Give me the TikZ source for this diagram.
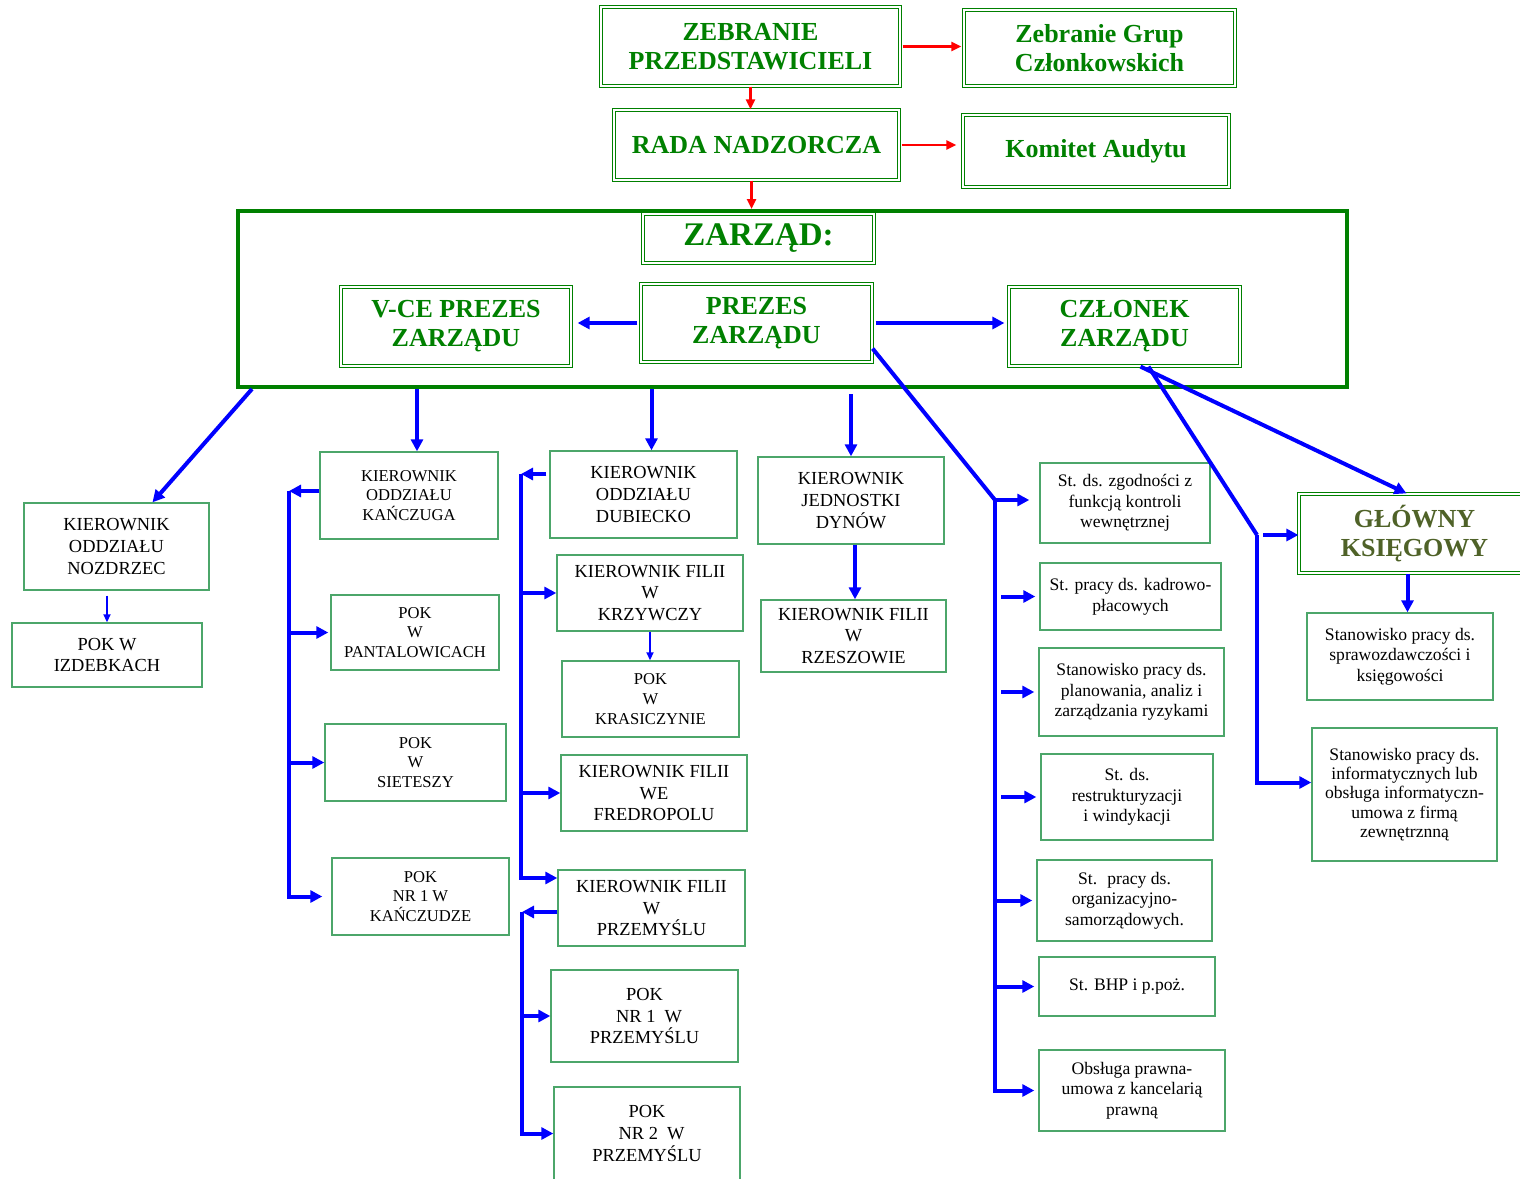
\documentclass[tikz,border=0pt]{standalone}
\usepackage{fontspec}
\setmainfont{Liberation Serif}
\usepackage{tikz}
\usetikzlibrary{arrows.meta,shapes,positioning,calc}

\definecolor{zgreen}{RGB}{0,128,0}
\definecolor{boxgreen}{RGB}{76,166,106}
\definecolor{olivegreen}{RGB}{79,98,40}

\begin{document}
\begin{tikzpicture}[
    x=0.5pt, y=-0.5pt,
    wh/.style 2 args={minimum width=#1*0.5pt, minimum height=#2*0.5pt},
    title/.style={rectangle, draw=zgreen, double, double distance=1.2pt, line width=0.6pt, text=zgreen, inner sep=0pt, align=center, font=\fontsize{13}{14.5}\selectfont\bfseries},
    unit/.style={rectangle, draw=boxgreen, line width=0.7pt, inner sep=0pt, align=center, font=\fontsize{9.2}{10.8}\selectfont},
    pok/.style={unit, font=\fontsize{8.3}{9.8}\selectfont},
    post/.style={unit, font=\fontsize{8.8}{10.3}\selectfont},
    redarrow/.style={-{Triangle[length=5pt,width=4.5pt]}, red, line width=1.2pt},
    arrow/.style={-{Triangle[length=6pt,width=6pt]}, blue, line width=2pt},
    thinarrow/.style={-{Triangle[length=4pt,width=3.5pt]}, blue, line width=0.9pt},
    link/.style={blue, line width=2pt}
]
    \useasboundingbox (0,0) rectangle (1520,1178);

    % walne i rada
    \node[title, wh={299}{79}] (zebranie) at (750.5,46.5) {ZEBRANIE\\PRZEDSTAWICIELI};
    \node[title, wh={271}{76}] (grupy) at (1099.5,48) {Zebranie Grup\\Członkowskich};
    \node[title, wh={285}{70}] (rada) at (756.5,145) {RADA NADZORCZA};
    \node[title, wh={266}{72}] (komitet) at (1096,151) {Komitet Audytu};

    % zarzad
    \node[rectangle, draw=zgreen, line width=2pt, wh={1109}{176}] (frame) at (792.5,299) {};
    \node[title, wh={231}{49}, font=\fontsize{16.5}{18}\selectfont\bfseries] (zarzad) at (758.5,238.5) {ZARZĄD:};
    \node[title, wh={230}{79}] (wiceprezes) at (456,326.5) {V-CE PREZES\\ZARZĄDU};
    \node[title, wh={231}{78}] (prezes) at (756.5,323) {PREZES\\ZARZĄDU};
    \node[title, wh={231}{79}] (czlonek) at (1124.5,326.5) {CZŁONEK\\ZARZĄDU};

    % oddzialy
    \node[unit, wh={185}{87}] (nozdrzec) at (116.5,546.5) {KIEROWNIK\\ODDZIAŁU\\NOZDRZEC};
    \node[unit, wh={190}{64}] (izdebki) at (107,655) {POK W\\IZDEBKACH};
    \node[pok, wh={178}{87}] (kanczuga) at (409,495.5) {KIEROWNIK\\ODDZIAŁU\\KAŃCZUGA};
    \node[pok, wh={168}{75}] (pantalowice) at (415,632.5) {POK\\W\\PANTALOWICACH};
    \node[pok, wh={181}{77}] (sietesza) at (415.5,762.5) {POK\\W\\SIETESZY};
    \node[pok, wh={177}{77}] (kanczudza) at (420.5,896.5) {POK\\NR 1 W\\KAŃCZUDZE};
    \node[unit, wh={187}{87}] (dubiecko) at (643.5,494.5) {KIEROWNIK\\ODDZIAŁU\\DUBIECKO};
    \node[unit, wh={186}{76}] (krzywcza) at (650,593) {KIEROWNIK FILII\\W\\KRZYWCZY};
    \node[pok, wh={177}{76}] (krasiczyn) at (650.5,699) {POK\\W\\KRASICZYNIE};
    \node[unit, wh={186}{76}] (fredropol) at (654,793) {KIEROWNIK FILII\\WE\\FREDROPOLU};
    \node[unit, wh={187}{76}] (przemysl) at (651.5,908) {KIEROWNIK FILII\\W\\PRZEMYŚLU};
    \node[unit, wh={187}{92}] (przemysl1) at (644.5,1016) {POK\\~~NR 1~ W\\PRZEMYŚLU};
    \node[unit, wh={186}{93}] (przemysl2) at (647,1133.5) {POK\\~~NR 2~ W\\PRZEMYŚLU};
    \node[unit, wh={186}{87}] (dynow) at (851,500.5) {KIEROWNIK\\JEDNOSTKI\\DYNÓW};
    \node[unit, wh={185}{72}] (rzeszow) at (853.5,636) {KIEROWNIK FILII\\W\\RZESZOWIE};

    % stanowiska
    \node[post, wh={170}{80}] (kontrola) at (1125,503) {St. ds. zgodności z\\funkcją kontroli\\wewnętrznej};
    \node[post, wh={181}{67}] (kadry) at (1130.5,596.5) {St. pracy ds. kadrowo-\\płacowych};
    \node[post, wh={185}{88}] (ryzyko) at (1131.5,692) {Stanowisko pracy ds.\\planowania, analiz i\\zarządzania ryzykami};
    \node[post, wh={172}{86}] (windykacja) at (1127,797) {St. ds.\\restrukturyzacji\\i windykacji};
    \node[post, wh={175}{81}] (samorzad) at (1124.5,900.5) {St.~ pracy ds.\\organizacyjno-\\samorządowych.};
    \node[post, wh={176}{59}] (bhp) at (1127,986.5) {St. BHP i p.poż.};
    \node[post, wh={186}{81}] (prawna) at (1132,1090.5) {Obsługa prawna-\\umowa z kancelarią\\prawną};
    \node[title, wh={231}{79}, text=olivegreen] (ksiegowy) at (1414.5,533.5) {GŁÓWNY\\KSIĘGOWY};
    \node[post, wh={186}{87}] (sprawozdania) at (1400,656.5) {Stanowisko pracy ds.\\sprawozdawczości i\\księgowości};
    \node[post, wh={185}{133}, font=\fontsize{8.8}{9.6}\selectfont] (informatyka) at (1404.5,794.5) {Stanowisko pracy ds.\\informatycznych lub\\obsługa informatyczn-\\umowa z firmą\\zewnętrznną};

    \coordinate (busA) at (289,491);
    \coordinate (busB) at (521,474);
    \coordinate (busC) at (522,912);
    \coordinate (busD) at (995,500);
    \coordinate (busE) at (1257,535);

    % czerwone
    \draw[redarrow, shorten <=1pt, shorten >=1pt] (zebranie.east) -- (zebranie.east -| grupy.west);
    \draw[redarrow] (zebranie.south) -- (zebranie.south |- rada.north);
    \draw[redarrow, shorten <=1pt, shorten >=3pt] (rada.east) -- (rada.east -| komitet.west);
    \draw[redarrow] ([xshift=-2.5pt]rada.south) -- ([xshift=-2.5pt]rada.south |- frame.north);

    \draw[arrow, shorten <=1.5pt, shorten >=3pt] (prezes.west) -- (prezes.west -| wiceprezes.east);
    \draw[arrow, shorten <=1.5pt, shorten >=2pt] (prezes.east) -- (prezes.east -| czlonek.west);

    \draw[arrow] ([xshift=8pt]frame.south west) -- ([xshift=18pt]nozdrzec.north);
    \draw[thinarrow, shorten <=2.5pt] (nozdrzec.south -| izdebki.north) -- (izdebki.north);

    \draw[arrow] ([xshift=4pt]kanczuga.north |- frame.south) -- ([xshift=4pt]kanczuga.north);
    \draw[arrow] (kanczuga.west |- busA) -- (busA);
    \draw[arrow, shorten >=4.5pt] (busA) |- (kanczudza.west);
    \draw[arrow, shorten >=1pt] (busA |- pantalowice.west) -- (pantalowice.west);
    \draw[arrow] (busA |- sietesza.west) -- (sietesza.west);

    \draw[arrow] ([xshift=4pt]dubiecko.north |- frame.south) -- ([xshift=4pt]dubiecko.north);
    \draw[arrow, shorten <=1.5pt] (dubiecko.west |- busB) -- (busB);
    \draw[arrow] (busB) |- ([yshift=15pt]przemysl.west);
    \draw[arrow] (busB |- krzywcza.west) -- (krzywcza.west);
    \draw[arrow] (busB |- fredropol.west) -- (fredropol.west);
    \draw[thinarrow] (krzywcza.south) -- (krzywcza.south |- krasiczyn.north);
    \draw[arrow] (przemysl.west |- busC) -- (busC);
    \draw[arrow] (busC) |- (przemysl2.west);
    \draw[arrow] (busC |- przemysl1.west) -- (przemysl1.west);

    \draw[arrow] ([yshift=-2.5pt]frame.south -| dynow.north) -- (dynow.north);
    \draw[arrow] ([xshift=2pt]dynow.south) -- ([xshift=2pt]dynow.south |- rzeszow.north);

    \draw[link] ([yshift=7pt]prezes.south east) -- (busD);
    \draw[arrow, shorten >=5pt] (busD) -- (busD -| kontrola.west);
    \draw[arrow, shorten >=2pt] (busD) |- (prawna.west);
    \draw[arrow, shorten >=2pt] ([xshift=3pt]busD |- kadry.west) -- (kadry.west);
    \draw[arrow, shorten >=2pt] ([xshift=3pt]busD |- ryzyko.west) -- (ryzyko.west);
    \draw[arrow, shorten >=2pt] ([xshift=3pt]busD |- windykacja.west) -- (windykacja.west);
    \draw[arrow, shorten >=2pt] (busD |- samorzad.west) -- (samorzad.west);
    \draw[arrow, shorten >=2pt] (busD |- bhp.west) -- (bhp.west);

    \draw[arrow] ([xshift=8pt]czlonek.south) -- ([xshift=-4pt]ksiegowy.north);
    \draw[link] ([xshift=12pt]czlonek.south) -- (busE);
    \draw[arrow, shorten <=3pt] (busE) -- (busE -| ksiegowy.west);
    \draw[arrow] (busE) |- ([yshift=6pt]informatyka.west);
    \draw[arrow] ([xshift=-3.5pt]ksiegowy.south) -- ([xshift=-3.5pt]ksiegowy.south |- sprawozdania.north);
\end{tikzpicture}
\end{document}
